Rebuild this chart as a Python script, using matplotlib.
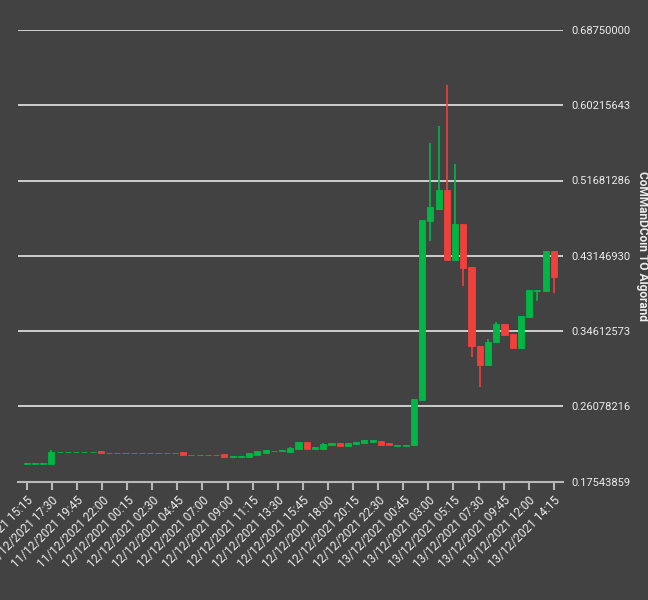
import numpy as np
import matplotlib
matplotlib.use("Agg")
import matplotlib.pyplot as plt

plt.rcParams['font.family'] = ['Roboto', 'DejaVu Sans']

# ---- data ----
opens = [0.1956, 0.1956, 0.1956, 0.1950, 0.2090, 0.2090, 0.2090, 0.2090, 0.2090, 0.2098,
         0.2079, 0.2079, 0.2079, 0.2079, 0.2079, 0.2079, 0.2079, 0.2079, 0.2079, 0.2086,
         0.2056, 0.2056, 0.2056, 0.2056, 0.2062, 0.2030, 0.2030, 0.2027, 0.2058, 0.2077,
         0.2097, 0.2100, 0.2092, 0.2118, 0.2197, 0.2126, 0.2126, 0.2171, 0.2191, 0.2157,
         0.2183, 0.2191, 0.2200, 0.2217, 0.2186, 0.2162, 0.2162, 0.2164, 0.2681, 0.4714,
         0.4850, 0.5062, 0.4272, 0.4680, 0.4189, 0.3293, 0.3078, 0.3331, 0.3543, 0.3429,
         0.3263, 0.3619, 0.3917, 0.3920, 0.4374]
closes = [0.1960, 0.1960, 0.1960, 0.2092, 0.2094, 0.2094, 0.2094, 0.2094, 0.2094, 0.2077,
          0.2083, 0.2083, 0.2083, 0.2083, 0.2083, 0.2083, 0.2083, 0.2083, 0.2083, 0.2050,
          0.2060, 0.2060, 0.2060, 0.2060, 0.2027, 0.2047, 0.2047, 0.2077, 0.2096, 0.2107,
          0.2104, 0.2107, 0.2137, 0.2197, 0.2126, 0.2145, 0.2183, 0.2194, 0.2157, 0.2194,
          0.2197, 0.2220, 0.2220, 0.2171, 0.2164, 0.2171, 0.2171, 0.2689, 0.4722, 0.4865,
          0.5062, 0.4272, 0.4680, 0.4181, 0.3286, 0.3078, 0.3339, 0.3543, 0.3418, 0.3263,
          0.3634, 0.3928, 0.3928, 0.4374, 0.4079]
# explicit wick extremes (None -> body edge)
highs = {3: 0.2115, 32: 0.2145, 36: 0.2194, 49: 0.5591, 50: 0.5787, 51: 0.6252,
         52: 0.5353, 56: 0.3369, 57: 0.3565}
lows = {24: 0.2016, 49: 0.4487, 53: 0.3966, 54: 0.3172, 55: 0.2821, 62: 0.3803,
        64: 0.3891}

tick_labels = ["11/12/2021 15:15", "11/12/2021 17:30", "11/12/2021 19:45", "11/12/2021 22:00",
               "12/12/2021 00:15", "12/12/2021 02:30", "12/12/2021 04:45", "12/12/2021 07:00",
               "12/12/2021 09:00", "12/12/2021 11:15", "12/12/2021 13:30", "12/12/2021 15:45",
               "12/12/2021 18:00", "12/12/2021 20:15", "12/12/2021 22:30", "13/12/2021 00:45",
               "13/12/2021 03:00", "13/12/2021 05:15", "13/12/2021 07:30", "13/12/2021 09:45",
               "13/12/2021 12:00", "13/12/2021 14:15"]
y_min, y_max = 0.17543859, 0.6875
y_title = "CoMManDCoin TO Algorand"

UP = '#00B746'
DOWN = '#EF403C'
BG = '#424242'
TXT = '#ececec'

n = len(opens)
x = np.arange(n)
o = np.array(opens)
c = np.array(closes)
hi = np.array([highs.get(i, max(o[i], c[i])) for i in range(n)])
lo = np.array([lows.get(i, min(o[i], c[i])) for i in range(n)])
cols = [UP if c[i] >= o[i] else DOWN for i in range(n)]

fig = plt.figure(figsize=(6.48, 6.0), dpi=100, facecolor=BG)
ax = fig.add_axes([0.0282, 0.1975, 0.8401, 0.7525])
ax.set_facecolor(BG)

yt = np.linspace(y_min, y_max, 7)
for v in yt:
    ax.axhline(v, color='#d9d9d9', lw=1.3, zorder=1)

ax.vlines(x, lo, hi, colors=cols, lw=1.2, zorder=3)
ax.bar(x, np.abs(c - o), bottom=np.minimum(o, c), width=0.74, color=cols,
       edgecolor=cols, linewidth=0.6, zorder=4)

ax.set_xlim(-1.02, n - 1 + 1.06)
ax.set_ylim(y_min, y_max)

for s in ['top', 'left', 'right']:
    ax.spines[s].set_visible(False)
ax.spines['bottom'].set_color('#b8b8b8')
ax.spines['bottom'].set_linewidth(1.5)
ax.spines['bottom'].set_zorder(2)

ax.yaxis.tick_right()
ax.set_yticks(yt)
ax.set_yticklabels([f"{v:.8f}" for v in yt], color=TXT, fontsize=8)
ax.tick_params(axis='y', length=0, pad=6)

xt = np.linspace(0, n - 1, len(tick_labels))
ax.set_xticks(xt)
ax.set_xticklabels(tick_labels, rotation=45, ha='right', va='top',
                   rotation_mode='anchor', color=TXT, fontsize=8.6)
ax.tick_params(axis='x', length=6, width=1.5, color='#b8b8b8', pad=3)

fig.text(0.991, 0.59, y_title, rotation=270, ha='center', va='center',
         color=TXT, fontsize=8.6, fontweight='bold')

fig.savefig('out.png', dpi=100, facecolor=BG)
